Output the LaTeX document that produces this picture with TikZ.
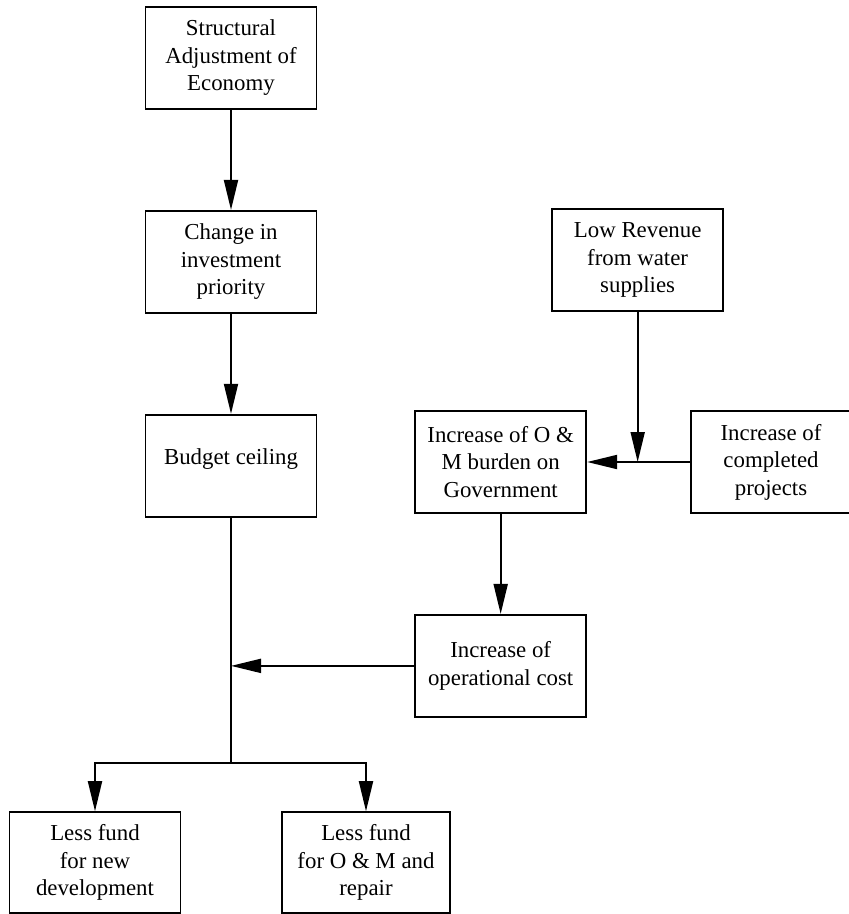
\documentclass[tikz,border=0pt]{standalone}
\usepackage{fontspec}
\setmainfont{Liberation Serif}
\usetikzlibrary{positioning,arrows.meta,calc}
\tikzset{
	>={Triangle[length=9mm,width=4.2mm]}
}

\begin{document}
\begin{tikzpicture}[
node distance = 3cm,
every node/.style = {
	font = \fontsize{19.5}{23.5}\selectfont
},
box/.style = {
	draw,
	line width = 1.6pt,
	minimum width = 5.13cm,
	minimum height = 3.06cm,
	align = center
},
flow/.style = {
	->,
	line width = 1.6pt
}
]
\useasboundingbox (0,0) rectangle (25.47,-27.42);

\node [box] (adjust) at (6.93,-1.74) {Structural\\Adjustment of\\Economy};
\node [box, below = of adjust] (priority) {Change in\\investment\\priority};
\node [box, below = of priority] (budget) {};
\node [yshift=2mm] (budgettxt) at (budget) {Budget ceiling};

\node [box] (revenue) at (19.13,-7.8) {Low Revenue\\from water\\supplies};
\node [box] (burden) at (15.02,-13.86) {Increase of O \&\\M burden on\\Government};
\node [box, minimum width=4.8cm, right = 3.09cm of burden] (projects) {Increase of\\completed\\projects};
\node [box, below = of burden] (opcost) {Increase of\\operational cost};

\node [box, minimum height=3.03cm] (newdev) at (2.85,-25.88) {Less fund\\for new\\development};
\node [box, minimum height=3.03cm, minimum width=5.04cm] (repair) at (10.98,-25.88) {Less fund\\for O \& M and\\repair};

\coordinate (split) at (budget |- 0,-22.89);

\draw[flow] (adjust) -- (priority);
\draw[flow] (priority) -- (budget);
\draw[line width=1.6pt] (budget) -- (split);
\draw[flow] (split) -| (newdev);
\draw[flow] (split) -| (repair);

\draw[flow] (revenue) -- (revenue |- burden);
\draw[flow] (projects) -- (burden);
\draw[flow] (burden) -- (opcost);
\draw[flow] (opcost.west) -- (opcost.west -| budget);

\end{tikzpicture}
\end{document}
